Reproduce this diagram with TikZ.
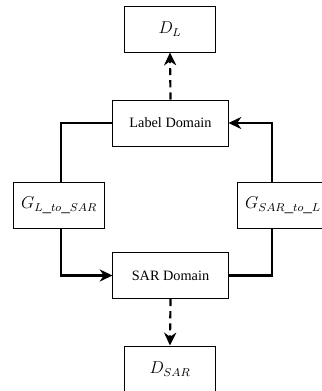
\documentclass[tikz,border=0pt]{standalone}
\usepackage{fontspec}
\setmainfont{Liberation Serif}
\usetikzlibrary{arrows.meta}
\begin{document}
\begin{tikzpicture}[x=0.7pt, y=-0.7pt, >={Stealth[length=9pt,width=8.5pt]}, line join=miter,
	dbox/.style={draw, line width=0.7pt, minimum width=63pt, minimum height=32.2pt, inner sep=0pt},
	dombox/.style={draw, line width=0.7pt, minimum width=80.5pt, minimum height=32.2pt, inner sep=0pt},
	gbox/.style={draw, line width=0.7pt, minimum width=63pt, minimum height=32.2pt, inner sep=0pt},
	cycleline/.style={line width=1.5pt},
	dashline/.style={line width=1.5pt, dash pattern=on 5pt off 3.5pt}]
	\useasboundingbox (0,0) rectangle (322,391);
	\node[dbox] (dl) at (170,29) {\large $D_L$};
	\node[dombox] (lab) at (170.5,123) {Label Domain};
	\node[gbox] (gl) at (59,205) {\large $G_{L\_to\_SAR}$};
	\node[gbox] (gr) at (283,205) {\large $G_{SAR\_to\_L}$};
	\node[dombox] (sar) at (170.5,275.5) {SAR Domain};
	\node[dbox] (ds) at (170,369) {\large $D_{SAR}$};
	\coordinate (lx) at (61,0); \coordinate (rx) at (272,0);
	% the cycle between the two domains
	\draw[cycleline] (lab.west) -| (lx |- gl.north);
	\draw[cycleline,->] (lx |- gl.south) |- (sar.west);
	\draw[cycleline] (sar.east) -| (rx |- gr.south);
	\draw[cycleline,->] (rx |- gr.north) |- (lab.east);
	% dashed outputs
	\draw[dashline,->] (lab.north) -- (dl.south);
	\draw[dashline,->] (sar.south) -- (ds.north);
\end{tikzpicture}
\end{document}
